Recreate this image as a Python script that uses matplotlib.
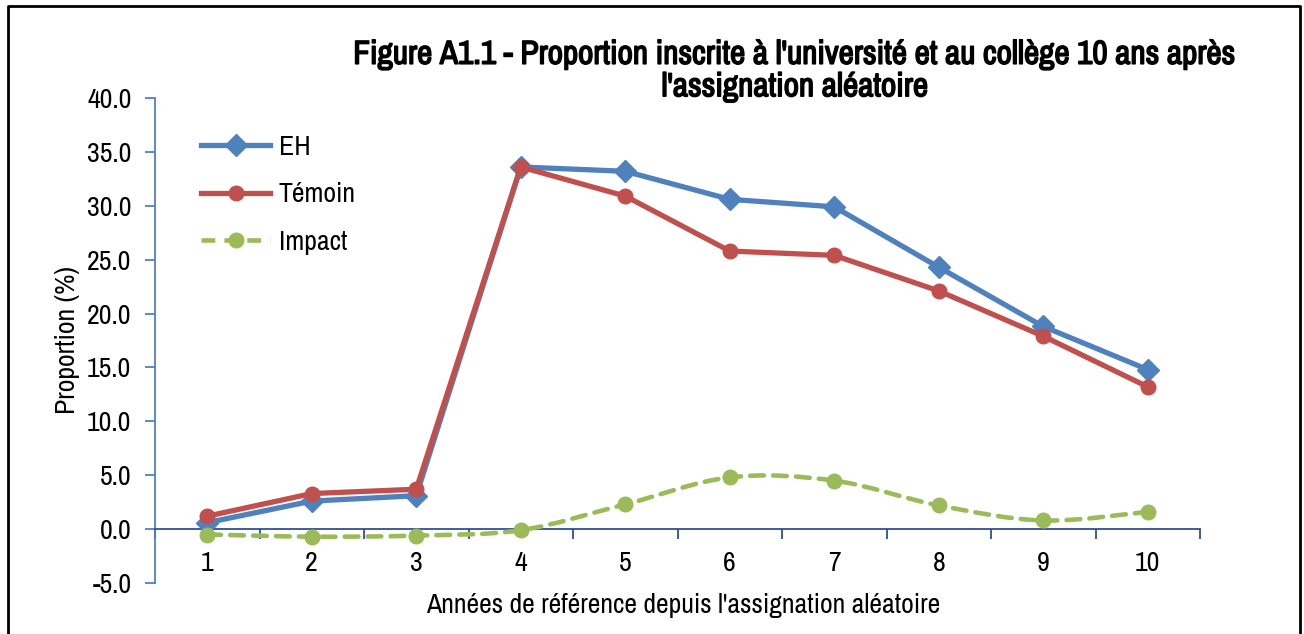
import numpy as np
import matplotlib
matplotlib.use("Agg")
import matplotlib.pyplot as plt
import matplotlib.patheffects as pe
from matplotlib import font_manager
from matplotlib.path import Path
from matplotlib.patches import PathPatch
from matplotlib.lines import Line2D

# pick a narrow font close to Arial Narrow
have = set(f.name for f in font_manager.fontManager.ttflist)
narrow = [n for n in ['Liberation Sans Narrow', 'Arial Narrow', 'Archivo Narrow',
                      'PT Sans Narrow', 'Roboto Condensed', 'Asap Condensed'] if n in have]
plt.rcParams['font.family'] = narrow[:1] + ['DejaVu Sans']

# data
years = [1, 2, 3, 4, 5, 6, 7, 8, 9, 10]
eh = [0.6, 2.6, 3.1, 33.6, 33.2, 30.6, 29.9, 24.3, 18.8, 14.8]
temoin = [1.2, 3.3, 3.7, 33.6, 30.9, 25.8, 25.4, 22.1, 17.9, 13.2]
impact = [-0.5, -0.7, -0.6, -0.1, 2.3, 4.8, 4.5, 2.2, 0.8, 1.6]
yticks = [-5, 0, 5, 10, 15, 20, 25, 30, 35, 40]

c_eh = '#4F81BD'
c_tem = '#C0504D'
c_imp = '#9BBB59'
fs = 20


def smooth_path(xs, ys):
    # excel-like smoothed line: cubic bezier segments through the points
    pts = np.column_stack([xs, ys]).astype(float)
    n = len(pts)
    verts = [pts[0]]
    codes = [Path.MOVETO]
    for i in range(n - 1):
        p0 = pts[max(i - 1, 0)]
        p1 = pts[i]
        p2 = pts[i + 1]
        p3 = pts[min(i + 2, n - 1)]
        c1 = p1 + (p2 - p0) / 6.0
        c2 = p2 - (p3 - p1) / 6.0
        verts += [c1, c2, p2]
        codes += [Path.CURVE4] * 3
    return Path(verts, codes)


fig = plt.figure(figsize=(13.04, 6.34), dpi=100)
ax = fig.add_axes([155 / 1304, 1 - 583 / 634, 1045 / 1304, 485 / 634])

ax.plot(years, eh, color=c_eh, lw=3.8, marker='D', ms=11, zorder=3)
ax.plot(years, temoin, color=c_tem, lw=3.8, marker='o', ms=10.5, zorder=4)
patch = PathPatch(smooth_path(years, impact), fill=False, edgecolor=c_imp, lw=3.3,
                  linestyle=(0, (3, 2)), capstyle='round', zorder=5)
ax.add_patch(patch)
ax.plot(years, impact, linestyle='none', marker='o', ms=10.5, color=c_imp, zorder=6)

ax.set_xlim(0.5, 10.5)
ax.set_ylim(-5, 40)

for s in ['top', 'right']:
    ax.spines[s].set_visible(False)
ax.spines['left'].set_color(c_eh)
ax.spines['left'].set_linewidth(1.3)
ax.spines['bottom'].set_position(('data', 0))
ax.spines['bottom'].set_color('#2F4F8F')
ax.spines['bottom'].set_linewidth(1.3)

ax.set_yticks(yticks)
ax.set_yticklabels(['%.1f' % v for v in yticks])
ax.tick_params(axis='y', direction='out', length=7, width=1.3, color=c_eh,
               labelsize=fs, pad=10)

ax.set_xticks(years)
ax.set_xticklabels([str(v) for v in years])
ax.tick_params(axis='x', which='major', length=0, labelsize=fs, pad=16)
ax.set_xticks(np.arange(0.5, 11, 1.0), minor=True)
ax.tick_params(axis='x', which='minor', direction='out', length=7, width=1.3, color='#2F4F8F')

ax.set_ylabel('Proportion (%)', fontsize=fs, labelpad=5)
fig.text(683 / 1304, 1 - 606 / 634, "Années de référence depuis l'assignation aléatoire",
         ha='center', va='center', fontsize=fs)

fig.text(795 / 1304, 1 - 71 / 634,
         "Figure A1.1 - Proportion inscrite à l'université et au collège 10 ans après\nl'assignation aléatoire",
         ha='center', va='center', fontsize=24, fontweight='bold', linespacing=1.1,
         path_effects=[pe.withStroke(linewidth=1.1, foreground='black')])

handles = [
    Line2D([], [], color=c_eh, lw=3.8, marker='D', ms=11),
    Line2D([], [], color=c_tem, lw=3.8, marker='o', ms=10.5),
    Line2D([], [], color=c_imp, lw=3.3, marker='o', ms=10.5, linestyle=(0, (3, 2))),
]
ax.legend(handles, ['EH', 'Témoin', 'Impact'], loc='upper left',
          bbox_to_anchor=(0.02, 0.975), frameon=False, fontsize=fs,
          handlelength=2.5, labelspacing=0.8, handletextpad=0.3)

# outer frame (no bottom edge visible in the reference)
fig.add_artist(Line2D([8 / 1304, 8 / 1304, 1300 / 1304, 1300 / 1304],
                      [0, 1 - 6 / 634, 1 - 6 / 634, 0],
                      transform=fig.transFigure, color='black', lw=2))

fig.savefig('out.png', dpi=100)
